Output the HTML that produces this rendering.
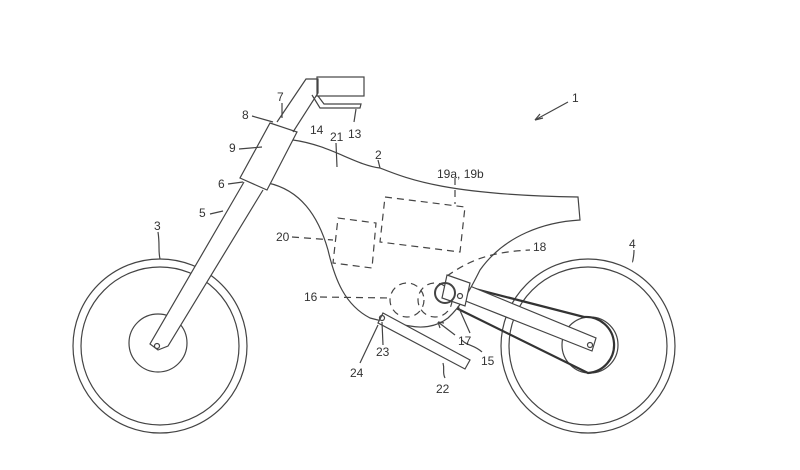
<!DOCTYPE html>
<html><head><meta charset="utf-8"><style>
html,body{margin:0;padding:0;background:#fff}
svg{display:block}
text{font-family:"Liberation Sans",sans-serif;font-size:12px;fill:#333}
</style></head><body>
<svg width="800" height="470" viewBox="0 0 800 470" xmlns="http://www.w3.org/2000/svg">
<g fill="none" stroke="#444" stroke-width="1.2">
<!-- wheels -->
<circle cx="160" cy="346" r="87"/><circle cx="160" cy="346" r="79"/>
<circle cx="158" cy="343" r="29"/>
<circle cx="588" cy="346" r="87"/><circle cx="588" cy="346" r="79"/>
<circle cx="590" cy="345" r="28" fill="#fff"/>
<!-- chain -->
<path d="M448,282 L584,317 A28,28 0 1 1 588,373 L444,302" stroke-width="2.2" stroke="#333"/>
<!-- swingarm -->
<path d="M465,284 L596,338 L592,351 L458,298" fill="#fff"/>
<circle cx="590" cy="345" r="2.5"/>
<!-- frame -->
<path d="M293,140 C330,145 355,165 380,168 C410,180 450,195 578,197 L580,220 C545,222 505,235 480,270 C470,290 462,305 448,318 C435,328 420,328 410,326 C395,324 385,322 370,318 C345,305 335,280 328,250 C318,215 300,190 268,183" fill="#fff"/>
<!-- dashed boxes -->
<g stroke-dasharray="7,5">
<path d="M385,197 L465,207 L460,252 L380,242 Z"/>
<path d="M338,218 L376,223 L372,268 L333,263 Z"/>
<circle cx="407" cy="300" r="17"/>
<circle cx="435" cy="300" r="17"/>
<path d="M447,276 C470,260 490,252 530,250"/>
<path d="M320,297 L390,298"/>
<path d="M292,237 L333,240"/>
<path d="M455,178 L455,204"/>
</g>
<!-- pivot bracket -->
<path d="M447,275 L470,283 L465,306 L442,298 Z" fill="#fff"/>
<circle cx="445" cy="293" r="10" stroke-width="2"/>
<circle cx="460" cy="296" r="2.5"/>
<!-- kickstand -->
<path d="M383,313 L470,360 L465,369 L378,323 Z" fill="#fff"/>
<circle cx="382" cy="318" r="2.5"/>
<!-- fork -->
<path d="M244,182 L150,344 L158,350 L168,346 L263,190" fill="#fff"/>
<circle cx="157" cy="346" r="2.5"/>
<!-- head tube -->
<path d="M270,123 L297,132 L267,190 L240,178 Z" fill="#fff"/>
<!-- stem -->
<path d="M277,122 L306,79 L318,79 L318,93 L293,132"/>
<rect x="317" y="77" width="47" height="19"/>
<path d="M312,95 L320,108 L360,108 L361,104 L324,104 L318,96"/>
<!-- leaders -->
<path d="M568,102 L535,120"/><path d="M535,120 l8,-2 m-8,2 l5,-6"/>
<path d="M158,232 C160,245 158,250 160,259"/>
<path d="M634,250 C634,258 632,262 633,262"/>
<path d="M210,214 L223,211"/>
<path d="M228,184 L243,182"/>
<path d="M282,103 L282,118"/>
<path d="M252,116 L273,122"/>
<path d="M239,149 L262,147"/>
<path d="M354,122 L356,109"/>
<path d="M378,160 L380,168"/>
<path d="M336,143 L337,167"/>
<path d="M470,333 L458,306"/>
<path d="M482,352 C475,345 465,345 462,340"/>
<path d="M455,335 L438,322"/><path d="M438,322 l6,1 m-6,-1 l2,6"/>
<path d="M445,378 C442,372 445,370 443,363"/>
<path d="M383,345 L382,322"/>
<path d="M360,363 L378,325"/>
</g>
<text x="572" y="102">1</text>
<text x="375" y="159">2</text>
<text x="154" y="230">3</text>
<text x="629" y="248">4</text>
<text x="199" y="217">5</text>
<text x="218" y="188">6</text>
<text x="277" y="101">7</text>
<text x="242" y="119">8</text>
<text x="229" y="152">9</text>
<text x="348" y="138">13</text>
<text x="310" y="134">14</text>
<text x="330" y="141">21</text>
<text x="481" y="365">15</text>
<text x="304" y="301">16</text>
<text x="458" y="345">17</text>
<text x="533" y="251">18</text>
<text x="437" y="178">19a, 19b</text>
<text x="276" y="241">20</text>
<text x="436" y="393">22</text>
<text x="376" y="356">23</text>
<text x="350" y="377">24</text>
</svg>
</body></html>
